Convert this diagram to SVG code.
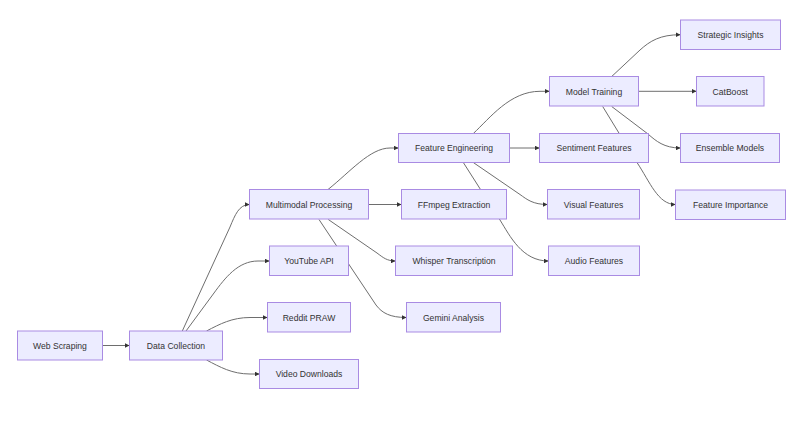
<svg xmlns="http://www.w3.org/2000/svg" width="794" height="427" viewBox="0 0 794 427">
  <style>
    .node rect { fill: #ECECFF; stroke: #A98BE3; stroke-width: 1; }
    .node text { font-family: "Liberation Sans", Arial, sans-serif; font-size: 8.6px; fill: #333333; text-anchor: middle; }
    .edges path { fill: none; stroke: #6E6E6E; stroke-width: 1; marker-end: url(#arrow); }
  </style>
  <defs>
    <marker id="arrow" viewBox="0 0 10 10" refX="10" refY="5" markerWidth="4.8" markerHeight="4.8" markerUnits="userSpaceOnUse" orient="auto">
      <path d="M0,0 L10,5 L0,10 z" fill="#333333"/>
    </marker>
  </defs>
  <rect width="794" height="427" fill="#ffffff"/>

  <!-- connectors (drawn first so nodes sit on top) -->
  <g id="edges" class="edges">
    <path d="M102.5,345.5 L129.5,345.5"/>
    <path d="M182.3,331 L230,227 C235,215 239,204.5 249.5,204.5"/>
    <path d="M186,331 L214,293 C225,278 238,261 258,261 L269.5,261"/>
    <path d="M206.5,331 C220,324 232,317.5 250,317.5 L267.5,317.5"/>
    <path d="M206.5,360 C220,367 232,374 250,374 L259.5,374"/>
    <path d="M368.5,204.5 L401.5,204.5"/>
    <path d="M328.3,219.5 L377,253 C383,257.5 387,261 395.5,261"/>
    <path d="M328,189.5 C350,172 370,148 390,148 L398.5,148"/>
    <path d="M319,219.5 L376,305 C382,313 390,317.5 406.5,317.5"/>
    <path d="M509.5,148 L539.5,148"/>
    <path d="M473.3,162.5 L520,194.5 C527,199.5 533,204.5 547.5,204.5"/>
    <path d="M463.3,162.5 L500,220 C510,236 522,261 548.5,261"/>
    <path d="M473.3,133.5 C490,118 510,91.3 540,91.3 L549.5,91.3"/>
    <path d="M611.7,76.5 L640,50 C650,41 660,34.7 680.5,34.7"/>
    <path d="M638.5,91.3 L696.5,91.3"/>
    <path d="M611.7,106.5 L648,134 C656,141 664,148 680.5,148"/>
    <path d="M602.7,106.5 L637,162.5 C650,182 658,204.5 675.5,204.5"/>
  </g>

  <g id="webScraping" class="node"><rect x="17.5" y="331" width="85" height="29"/><text x="60" y="348.5">Web Scraping</text></g>
  <g id="dataCollection" class="node"><rect x="129.5" y="331" width="93" height="29"/><text x="176" y="348.5">Data Collection</text></g>
  <g id="multimodalProcessing" class="node"><rect x="249.5" y="189.5" width="119" height="29.5"/><text x="309" y="207.5">Multimodal Processing</text></g>
  <g id="youtubeApi" class="node"><rect x="269.5" y="246" width="79" height="29.5"/><text x="309" y="264">YouTube API</text></g>
  <g id="redditPraw" class="node"><rect x="267.5" y="302.5" width="83" height="29.5"/><text x="309" y="320.5">Reddit PRAW</text></g>
  <g id="videoDownloads" class="node"><rect x="259.5" y="359.5" width="99" height="29"/><text x="309" y="377">Video Downloads</text></g>
  <g id="ffmpegExtraction" class="node"><rect x="401.5" y="189.5" width="105" height="29.5"/><text x="454" y="207.5">FFmpeg Extraction</text></g>
  <g id="whisperTranscription" class="node"><rect x="395.5" y="246" width="117" height="29.5"/><text x="454" y="264">Whisper Transcription</text></g>
  <g id="geminiAnalysis" class="node"><rect x="406.5" y="302.5" width="94" height="29.5"/><text x="453.5" y="320.5">Gemini Analysis</text></g>
  <g id="featureEngineering" class="node"><rect x="398.5" y="133.5" width="111" height="29"/><text x="454" y="151">Feature Engineering</text></g>
  <g id="sentimentFeatures" class="node"><rect x="539.5" y="133.5" width="109" height="29"/><text x="594" y="151">Sentiment Features</text></g>
  <g id="visualFeatures" class="node"><rect x="547.5" y="189.5" width="92" height="29.5"/><text x="593.5" y="207.5">Visual Features</text></g>
  <g id="audioFeatures" class="node"><rect x="548.5" y="246" width="91" height="29.5"/><text x="594" y="264">Audio Features</text></g>
  <g id="modelTraining" class="node"><rect x="549.5" y="76.5" width="89" height="29.5"/><text x="594" y="94.5">Model Training</text></g>
  <g id="strategicInsights" class="node"><rect x="680.5" y="20" width="100" height="29.5"/><text x="730.5" y="38">Strategic Insights</text></g>
  <g id="catBoost" class="node"><rect x="696.5" y="76.5" width="67.5" height="29.5"/><text x="730.2" y="94.5">CatBoost</text></g>
  <g id="ensembleModels" class="node"><rect x="680.5" y="133.5" width="99" height="29"/><text x="730" y="151">Ensemble Models</text></g>
  <g id="featureImportance" class="node"><rect x="675.5" y="190" width="110" height="29.5"/><text x="730.5" y="208">Feature Importance</text></g>
</svg>
